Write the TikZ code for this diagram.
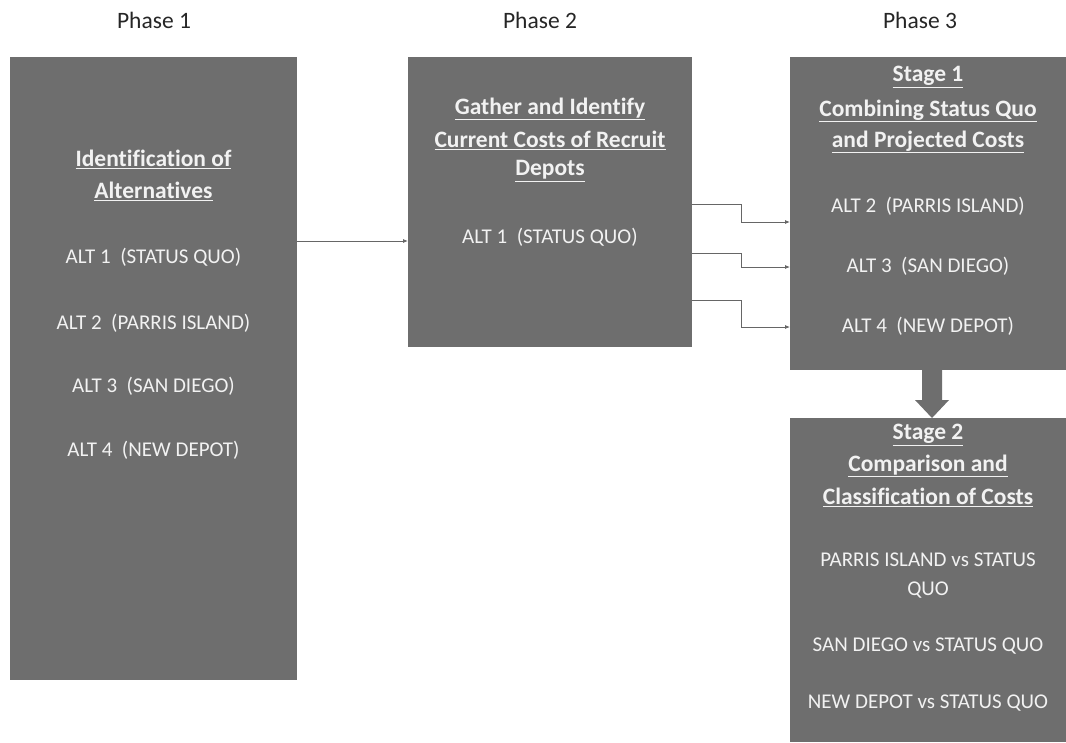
\documentclass[tikz,border=0pt]{standalone}
\usepackage{fontspec}
\setmainfont[Ligatures=CommonOff]{Carlito}
\usetikzlibrary{arrows.meta}
\definecolor{boxgray}{HTML}{6E6E6E}
\definecolor{txtw}{HTML}{F2F2F2}
\begin{document}
\begin{tikzpicture}[x=1pt,y=-1pt,
  panel/.style={fill=boxgray,draw=none},
  ttl/.style={text=txtw,font=\fontsize{23.5}{26}\selectfont\bfseries,align=center,inner sep=0},
  itm/.style={text=txtw,font=\fontsize{21}{24}\selectfont,align=center,inner sep=0},
  phase/.style={text=black!85,font=\fontsize{23.5}{26}\selectfont,inner sep=0},
  conn/.style={draw=black!60,line width=0.8pt,-{Latex[length=5pt,width=4pt]}}]
\useasboundingbox (0,0) rectangle (1066,742);
\fill[white] (0,0) rectangle (1066,742);
% panels
\path[panel] (10,57) rectangle (297,680);
\coordinate (p1r) at (297,241);
\path[panel] (408,57) rectangle (692,347);
\coordinate (p2l) at (408,241);
\coordinate (p2a) at (692,204);
\coordinate (p2b) at (692,253);
\coordinate (p2c) at (692,300);
\path[panel] (790,57) rectangle (1066,370);
\coordinate (s1a) at (790,222);
\coordinate (s1b) at (790,267);
\coordinate (s1c) at (790,327);
\path[panel] (790,418) rectangle (1066,742);
% phase labels
\node[phase] (ph1) at (154,20) {Phase 1};
\node[phase] (ph2) at (540,20) {Phase 2};
\node[phase] (ph3) at (920,20) {Phase 3};
% phase 1 text
\node[ttl] (t1a) at (153.5,159) {\underline{Identification of}};
\node[ttl] (t1b) at (153.5,191) {\underline{Alternatives}};
\node[itm] (a11) at (153.5,257) {ALT 1\ \ (STATUS QUO)};
\node[itm] (a12) at (153.5,323) {ALT 2\ \ (PARRIS ISLAND)};
\node[itm] (a13) at (153.5,386) {ALT 3\ \ (SAN DIEGO)};
\node[itm] (a14) at (153.5,450) {ALT 4\ \ (NEW DEPOT)};
% phase 2 text
\node[ttl] (t2a) at (550,109) {\underline{Gather and Identify}};
\node[ttl] (t2b) at (550,140) {\underline{Current Costs of Recruit}};
\node[ttl] (t2c) at (550,171) {\underline{Depots}};
\node[itm] (a21) at (550,237) {ALT 1\ \ (STATUS QUO)};
% stage 1 text
\node[ttl] (t3a) at (928,77) {\underline{Stage 1}};
\node[ttl] (t3b) at (928,111) {\underline{Combining Status Quo}};
\node[ttl] (t3c) at (928,142) {\underline{and Projected Costs}};
\node[itm] (a32) at (928,206) {ALT 2\ \ (PARRIS ISLAND)};
\node[itm] (a33) at (928,266) {ALT 3\ \ (SAN DIEGO)};
\node[itm] (a34) at (928,326) {ALT 4\ \ (NEW DEPOT)};
% stage 2 text
\node[ttl] (t4a) at (928,435) {\underline{Stage 2}};
\node[ttl] (t4b) at (928,466) {\underline{Comparison and}};
\node[ttl] (t4c) at (928,497) {\underline{Classification of Costs}};
\node[itm] (b1) at (928,560) {PARRIS ISLAND vs STATUS};
\node[itm] (b1b) at (928,590) {QUO};
\node[itm] (b2) at (928,646) {SAN DIEGO vs STATUS QUO};
\node[itm] (b3) at (928,703) {NEW DEPOT vs STATUS QUO};
% connectors
\draw[conn] (p1r) -- (p2l);
\draw[conn] (p2a) -- (741,204) |- (s1a);
\draw[conn] (p2b) -- (741,253) |- (s1b);
\draw[conn] (p2c) -- (741,300) |- (s1c);
\fill[boxgray] (922,369) -- (942,369) -- (942,400) -- (949,400) -- (932,418) -- (915,400) -- (922,400) -- cycle;
\end{tikzpicture}
\end{document}
